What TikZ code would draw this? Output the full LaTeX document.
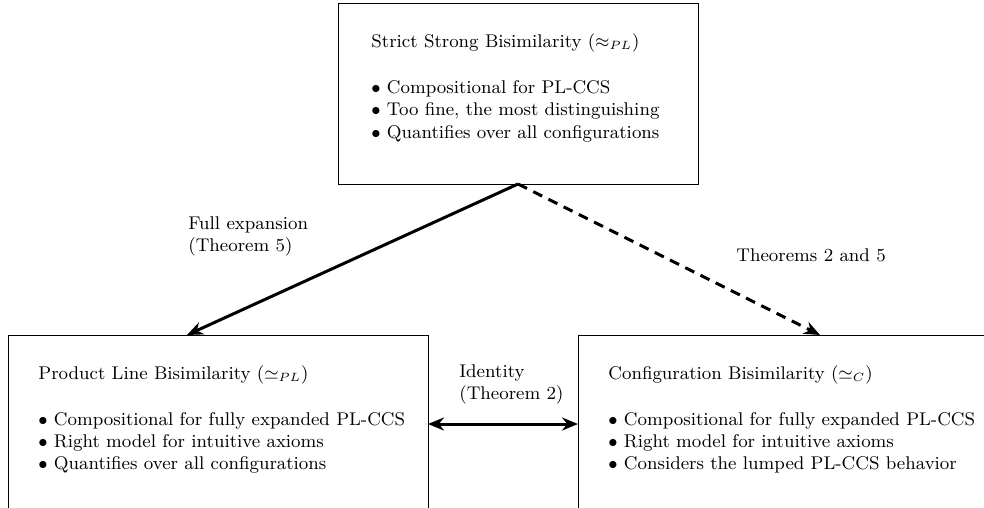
\documentclass[tikz,border=0pt]{standalone}
\usetikzlibrary{arrows.meta,calc}
\begin{document}
\begin{tikzpicture}[x=0.5pt,y=-0.5pt,
  box/.style={draw, line width=0.5pt, inner sep=0pt, outer sep=0pt},
  txt/.style={inner sep=0pt, align=left, font=\fontsize{9.2}{11}\selectfont},
  tipx/.tip={Stealth[length=8pt,width=6.5pt]},
  conn/.style={line width=1.5pt, -tipx}]
\clip (0,0) rectangle (984,508);
\node[box, minimum width=180pt, minimum height=90pt] (S) at (518,94) {};
\node[box, minimum width=210pt, minimum height=112.5pt] (L) at (218,447.5) {};
\node[box, minimum width=211pt, minimum height=112.5pt] (R) at (789,447.5) {};
\node[txt, anchor=base west] (St) at (371,138) {Strict Strong Bisimilarity ($\approx_{PL}$)\\[12pt]
  $\bullet$ Compositional for PL-CCS\\
  $\bullet$ Too fine, the most distinguishing\\
  $\bullet$ Quantifies over all configurations};
\node[txt, anchor=base west] (Lt) at (38,469) {Product Line Bisimilarity ($\simeq_{PL}$)\\[12pt]
  $\bullet$ Compositional for fully expanded PL-CCS\\
  $\bullet$ Right model for intuitive axioms\\
  $\bullet$ Quantifies over all configurations};
\node[txt, anchor=base west] (Rt) at (608,469) {Configuration Bisimilarity ($\simeq_{C}$)\\[12pt]
  $\bullet$ Compositional for fully expanded PL-CCS\\
  $\bullet$ Right model for intuitive axioms\\
  $\bullet$ Considers the lumped PL-CCS behavior};
\coordinate (lt) at (187,335);
\coordinate (rt) at (820,335);
\coordinate (ya) at (0,424);
\draw[conn] (S.south) -- (lt);
\draw[conn, dash pattern=on 5pt off 3.5pt] (S.south) -- (rt);
\draw[conn, tipx-tipx] (L.east |- ya) -- (R.west |- ya);
\node[txt, anchor=base west] (lf) at (188,251) {Full expansion\\(Theorem 5)};
\node[txt, anchor=base west] (ld) at (736,261) {Theorems 2 and 5};
\node[txt, anchor=base west] (li) at (459,399) {Identity\\(Theorem 2)};
\end{tikzpicture}
\end{document}
